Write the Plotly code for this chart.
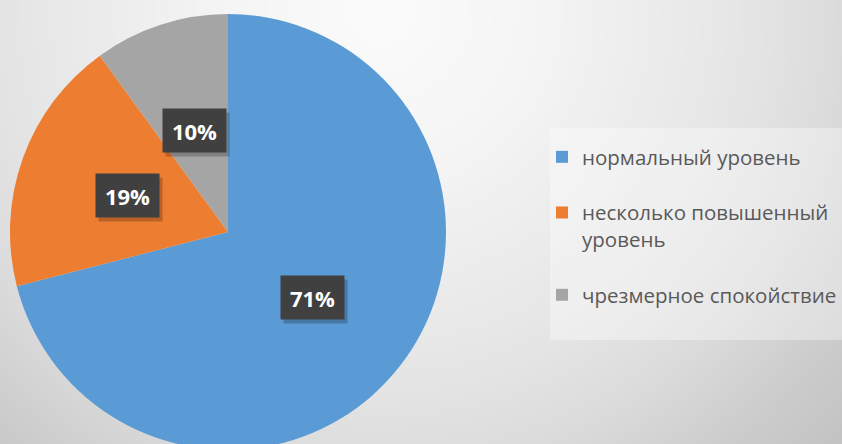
import numpy as np
import plotly.graph_objects as go

# ---- data ----
categories = ["нормальный уровень", "несколько повышенный уровень", "чрезмерное спокойствие"]
legend_labels = ["нормальный уровень", "несколько повышенный<br>уровень", "чрезмерное спокойствие"]
values = [71, 19, 10]
colors = ["#5B9BD5", "#ED7D31", "#A5A5A5"]

# ---- geometry (pixels) ----
W, H = 842, 450
CX, CY, R = 228, 232, 218
LABEL_R = 0.49

fig = go.Figure()

# background radial gradient
gx = np.linspace(-20, W + 20, 70)
gy = np.linspace(-20, H + 20, 40)
X, Y = np.meshgrid(gx, gy)
D = np.hypot(X - 380, Y - 10)
dmax = 650
stops = [(0, 251), (150, 245), (300, 234), (380, 228), (460, 219), (560, 203), (650, 193)]
colorscale = [[d / dmax, f"rgb({v},{v},{v})"] for d, v in stops]
fig.add_trace(go.Heatmap(x=gx, y=gy, z=np.clip(D, 0, dmax), zmin=0, zmax=dmax,
                         colorscale=colorscale, showscale=False, zsmooth="best",
                         hoverinfo="skip"))

# pie
fig.add_trace(go.Pie(
    labels=categories, values=values, sort=False, direction="clockwise", rotation=0,
    marker=dict(colors=colors, line=dict(width=0)),
    textinfo="none", hoverinfo="label+percent", showlegend=False,
    domain=dict(x=[(CX - R) / W, (CX + R) / W], y=[1 - (CY + R) / H, 1 - (CY - R) / H]),
))

# legend entries
for lab, col in zip(legend_labels, colors):
    fig.add_trace(go.Scatter(x=[None], y=[None], mode="markers", name=lab, legendgroup=lab,
                             marker=dict(symbol="square", size=10, color=col), showlegend=True))

# data labels
total = sum(values)
cum = 0
for v in values:
    mid = (cum + v / 2) / total
    cum += v
    th = 2 * np.pi * mid
    lx = CX + LABEL_R * R * np.sin(th)
    ly = CY - LABEL_R * R * np.cos(th)
    txt = f"{round(v / total * 100)}%"
    # shadow
    fig.add_annotation(x=lx + 3, y=ly + 4, xref="x", yref="y", text=" ", showarrow=False,
                       width=57, height=37, borderpad=3, bgcolor="rgba(0,0,0,0.22)")
    fig.add_annotation(x=lx, y=ly, xref="x", yref="y", text=f"<b>{txt}</b>", showarrow=False,
                       width=57, height=37, borderpad=3, bgcolor="#404040",
                       font=dict(family="Open Sans", size=22, color="white"))

# legend box background
fig.add_shape(type="rect", xref="x", yref="y", x0=550, x1=842, y0=128, y1=340,
              fillcolor="rgba(255,255,255,0.35)", line=dict(width=0), layer="above")

fig.update_layout(
    width=W, height=H, margin=dict(l=0, r=0, t=0, b=0),
    paper_bgcolor="white", plot_bgcolor="white",
    xaxis=dict(range=[0, W], visible=False, fixedrange=True),
    yaxis=dict(range=[H, 0], visible=False, fixedrange=True),
    showlegend=True,
    legend=dict(x=542 / W, xanchor="left", y=1 - 137 / H, yanchor="top",
                bgcolor="rgba(0,0,0,0)", font=dict(family="Open Sans", size=20.5, color="#595959"),
                tracegroupgap=26, valign="top", itemsizing="constant"),
)

fig.write_html("out.html",
               post_script="document.body.style.margin='0';document.body.style.overflow='hidden';")
